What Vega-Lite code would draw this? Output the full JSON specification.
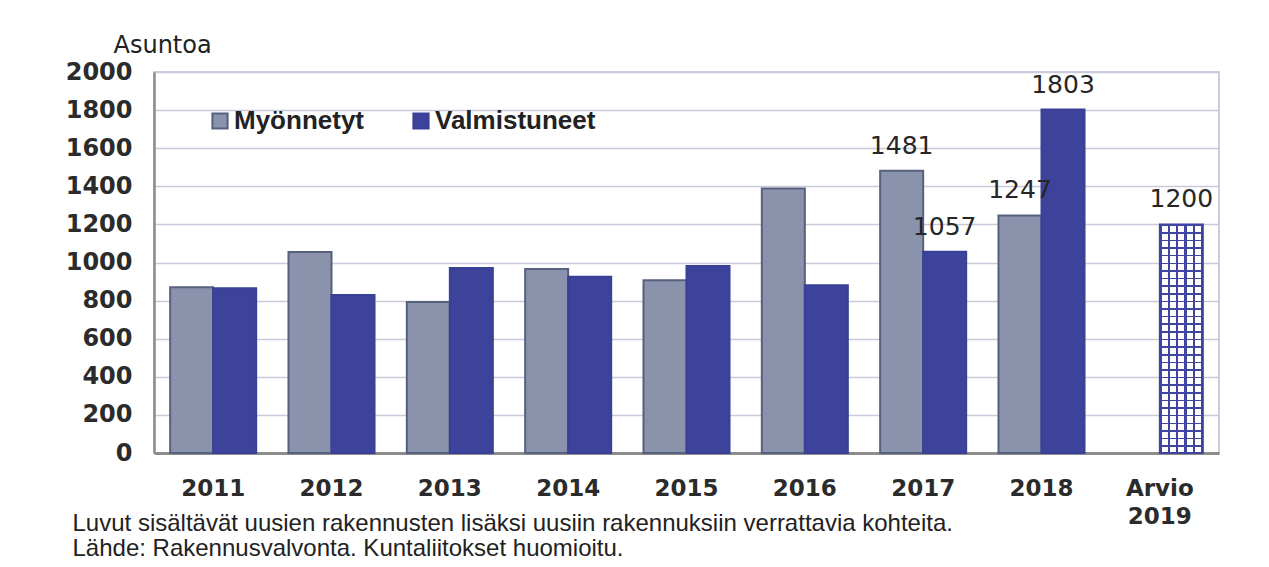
{
  "$schema": "https://vega.github.io/schema/vega-lite/v6.json",
  "width": 1065,
  "height": 381,
  "autosize": {"type": "none"},
  "padding": {"left": 154, "top": 72, "right": 50, "bottom": 114},
  "background": "white",
  "config": {
    "view": {"stroke": "#b9bdd0", "strokeWidth": 1.5},
    "font": "DejaVu Sans"
  },
  "data": {
    "values": [
      {"year": "2011", "series": "Myönnetyt", "value": 870, "kind": "toteutunut"},
      {"year": "2011", "series": "Valmistuneet", "value": 865, "kind": "toteutunut"},
      {"year": "2012", "series": "Myönnetyt", "value": 1055, "kind": "toteutunut"},
      {"year": "2012", "series": "Valmistuneet", "value": 830, "kind": "toteutunut"},
      {"year": "2013", "series": "Myönnetyt", "value": 792, "kind": "toteutunut"},
      {"year": "2013", "series": "Valmistuneet", "value": 971, "kind": "toteutunut"},
      {"year": "2014", "series": "Myönnetyt", "value": 966, "kind": "toteutunut"},
      {"year": "2014", "series": "Valmistuneet", "value": 925, "kind": "toteutunut"},
      {"year": "2015", "series": "Myönnetyt", "value": 907, "kind": "toteutunut"},
      {"year": "2015", "series": "Valmistuneet", "value": 981, "kind": "toteutunut"},
      {"year": "2016", "series": "Myönnetyt", "value": 1388, "kind": "toteutunut"},
      {"year": "2016", "series": "Valmistuneet", "value": 881, "kind": "toteutunut"},
      {"year": "2017", "series": "Myönnetyt", "value": 1481, "kind": "toteutunut"},
      {"year": "2017", "series": "Valmistuneet", "value": 1057, "kind": "toteutunut"},
      {"year": "2018", "series": "Myönnetyt", "value": 1247, "kind": "toteutunut"},
      {"year": "2018", "series": "Valmistuneet", "value": 1803, "kind": "toteutunut"},
      {"year": "Arvio 2019", "series": "Valmistuneet", "value": 1200, "kind": "arvio"}
    ]
  },
  "encoding": {
    "x": {
      "field": "year",
      "type": "nominal",
      "sort": null,
      "scale": {"paddingInner": 0.273, "paddingOuter": 0.1365},
      "axis": {
        "labelAngle": 0,
        "labelExpr": "split(datum.label, ' ')",
        "labelFont": "DejaVu Sans",
        "labelFontWeight": "bold",
        "labelFontSize": 23,
        "labelColor": "#2b2b2b",
        "labelLineHeight": 28,
        "labelPadding": 24,
        "ticks": false,
        "domain": true,
        "domainColor": "#8c8c8c",
        "domainWidth": 3,
        "grid": false,
        "title": ["Luvut sisältävät uusien rakennusten lisäksi uusiin rakennuksiin verrattavia kohteita.", "Lähde: Rakennusvalvonta. Kuntaliitokset huomioitu."],
        "titleFont": "Liberation Sans",
        "titleFontWeight": "normal",
        "titleFontSize": 24,
        "titleColor": "#222222",
        "titleAlign": "left",
        "titleAnchor": "start",
        "titleBaseline": "middle",
        "titleLineHeight": 25,
        "titleLimit": 1200,
        "titleX": -82,
        "titleY": 70
      }
    },
    "xOffset": {
      "field": "series",
      "type": "nominal",
      "scale": {"domain": ["Myönnetyt", "Valmistuneet"], "paddingInner": 0, "paddingOuter": 0}
    },
    "y": {
      "field": "value",
      "type": "quantitative",
      "scale": {"domain": [0, 2000], "nice": false},
      "axis": {
        "values": [0, 200, 400, 600, 800, 1000, 1200, 1400, 1600, 1800, 2000],
        "format": "d",
        "labelFont": "DejaVu Sans",
        "labelFontWeight": "bold",
        "labelFontSize": 24,
        "labelColor": "#2b2b2b",
        "labelPadding": 22,
        "ticks": false,
        "domain": true,
        "domainColor": "#8c8c8c",
        "domainWidth": 2.5,
        "grid": true,
        "gridColor": "#c9cbda",
        "gridWidth": 1.5,
        "title": "Asuntoa",
        "titleFont": "DejaVu Sans",
        "titleFontWeight": "normal",
        "titleFontSize": 24,
        "titleColor": "#222222",
        "titleAngle": 0,
        "titleAlign": "left",
        "titleBaseline": "middle",
        "titleX": -41,
        "titleY": -27
      }
    }
  },
  "layer": [
    {
      "transform": [{"filter": "datum.kind == 'toteutunut'"}],
      "mark": {"type": "bar", "strokeWidth": 2},
      "encoding": {
        "color": {
          "field": "series",
          "type": "nominal",
          "scale": {"domain": ["Myönnetyt", "Valmistuneet"], "range": ["#8a93ab", "#3d439b"]},
          "legend": {
            "title": null,
            "orient": "none",
            "direction": "horizontal",
            "legendX": 53,
            "legendY": 36,
            "padding": 0,
            "symbolType": "square",
            "symbolSize": 230,
            "symbolStrokeWidth": 2,
            "symbolOpacity": 1,
            "labelFont": "Liberation Sans",
            "labelFontWeight": "bold",
            "labelFontSize": 26,
            "labelColor": "#222222",
            "labelOffset": 1,
            "labelLimit": 400,
            "columnPadding": 44
          }
        },
        "stroke": {
          "field": "series",
          "type": "nominal",
          "scale": {"domain": ["Myönnetyt", "Valmistuneet"], "range": ["#56607f", "#3a4096"]},
          "legend": null
        }
      }
    },
    {
      "transform": [{"filter": "datum.kind == 'arvio'"}],
      "mark": {
        "type": "bar",
        "fill": {
          "gradient": "linear", "x1": 0, "y1": 0, "x2": 1, "y2": 0,
          "stops": [
            {"offset": 0, "color": "#3f45a0"}, {"offset": 0.05, "color": "#3f45a0"}, {"offset": 0.05, "color": "#ffffff"}, {"offset": 0.19, "color": "#ffffff"},
            {"offset": 0.19, "color": "#3f45a0"}, {"offset": 0.24, "color": "#3f45a0"}, {"offset": 0.24, "color": "#ffffff"}, {"offset": 0.38, "color": "#ffffff"},
            {"offset": 0.38, "color": "#3f45a0"}, {"offset": 0.43, "color": "#3f45a0"}, {"offset": 0.43, "color": "#ffffff"}, {"offset": 0.57, "color": "#ffffff"},
            {"offset": 0.57, "color": "#3f45a0"}, {"offset": 0.62, "color": "#3f45a0"}, {"offset": 0.62, "color": "#ffffff"}, {"offset": 0.76, "color": "#ffffff"},
            {"offset": 0.76, "color": "#3f45a0"}, {"offset": 0.81, "color": "#3f45a0"}, {"offset": 0.81, "color": "#ffffff"}, {"offset": 0.95, "color": "#ffffff"},
            {"offset": 0.95, "color": "#3f45a0"}, {"offset": 1, "color": "#3f45a0"}
          ]
        }
      }
    },
    {
      "transform": [{"filter": "datum.kind == 'arvio'"}],
      "mark": {
        "type": "bar",
        "stroke": "#3f45a0",
        "strokeWidth": 2,
        "fill": {
          "gradient": "linear", "x1": 0, "y1": 0, "x2": 0, "y2": 1,
          "stops": [
            {"offset": 0, "color": "#3f45a0"}, {"offset": 0.007, "color": "#3f45a0"}, {"offset": 0.007, "color": "rgba(255,255,255,0)"}, {"offset": 0.0333, "color": "rgba(255,255,255,0)"},
            {"offset": 0.0333, "color": "#3f45a0"}, {"offset": 0.0403, "color": "#3f45a0"}, {"offset": 0.0403, "color": "rgba(255,255,255,0)"}, {"offset": 0.0667, "color": "rgba(255,255,255,0)"},
            {"offset": 0.0667, "color": "#3f45a0"}, {"offset": 0.0737, "color": "#3f45a0"}, {"offset": 0.0737, "color": "rgba(255,255,255,0)"}, {"offset": 0.1, "color": "rgba(255,255,255,0)"},
            {"offset": 0.1, "color": "#3f45a0"}, {"offset": 0.107, "color": "#3f45a0"}, {"offset": 0.107, "color": "rgba(255,255,255,0)"}, {"offset": 0.1333, "color": "rgba(255,255,255,0)"},
            {"offset": 0.1333, "color": "#3f45a0"}, {"offset": 0.1403, "color": "#3f45a0"}, {"offset": 0.1403, "color": "rgba(255,255,255,0)"}, {"offset": 0.1667, "color": "rgba(255,255,255,0)"},
            {"offset": 0.1667, "color": "#3f45a0"}, {"offset": 0.1737, "color": "#3f45a0"}, {"offset": 0.1737, "color": "rgba(255,255,255,0)"}, {"offset": 0.2, "color": "rgba(255,255,255,0)"},
            {"offset": 0.2, "color": "#3f45a0"}, {"offset": 0.207, "color": "#3f45a0"}, {"offset": 0.207, "color": "rgba(255,255,255,0)"}, {"offset": 0.2333, "color": "rgba(255,255,255,0)"},
            {"offset": 0.2333, "color": "#3f45a0"}, {"offset": 0.2403, "color": "#3f45a0"}, {"offset": 0.2403, "color": "rgba(255,255,255,0)"}, {"offset": 0.2667, "color": "rgba(255,255,255,0)"},
            {"offset": 0.2667, "color": "#3f45a0"}, {"offset": 0.2737, "color": "#3f45a0"}, {"offset": 0.2737, "color": "rgba(255,255,255,0)"}, {"offset": 0.3, "color": "rgba(255,255,255,0)"},
            {"offset": 0.3, "color": "#3f45a0"}, {"offset": 0.307, "color": "#3f45a0"}, {"offset": 0.307, "color": "rgba(255,255,255,0)"}, {"offset": 0.3333, "color": "rgba(255,255,255,0)"},
            {"offset": 0.3333, "color": "#3f45a0"}, {"offset": 0.3403, "color": "#3f45a0"}, {"offset": 0.3403, "color": "rgba(255,255,255,0)"}, {"offset": 0.3667, "color": "rgba(255,255,255,0)"},
            {"offset": 0.3667, "color": "#3f45a0"}, {"offset": 0.3737, "color": "#3f45a0"}, {"offset": 0.3737, "color": "rgba(255,255,255,0)"}, {"offset": 0.4, "color": "rgba(255,255,255,0)"},
            {"offset": 0.4, "color": "#3f45a0"}, {"offset": 0.407, "color": "#3f45a0"}, {"offset": 0.407, "color": "rgba(255,255,255,0)"}, {"offset": 0.4333, "color": "rgba(255,255,255,0)"},
            {"offset": 0.4333, "color": "#3f45a0"}, {"offset": 0.4403, "color": "#3f45a0"}, {"offset": 0.4403, "color": "rgba(255,255,255,0)"}, {"offset": 0.4667, "color": "rgba(255,255,255,0)"},
            {"offset": 0.4667, "color": "#3f45a0"}, {"offset": 0.4737, "color": "#3f45a0"}, {"offset": 0.4737, "color": "rgba(255,255,255,0)"}, {"offset": 0.5, "color": "rgba(255,255,255,0)"},
            {"offset": 0.5, "color": "#3f45a0"}, {"offset": 0.507, "color": "#3f45a0"}, {"offset": 0.507, "color": "rgba(255,255,255,0)"}, {"offset": 0.5333, "color": "rgba(255,255,255,0)"},
            {"offset": 0.5333, "color": "#3f45a0"}, {"offset": 0.5403, "color": "#3f45a0"}, {"offset": 0.5403, "color": "rgba(255,255,255,0)"}, {"offset": 0.5667, "color": "rgba(255,255,255,0)"},
            {"offset": 0.5667, "color": "#3f45a0"}, {"offset": 0.5737, "color": "#3f45a0"}, {"offset": 0.5737, "color": "rgba(255,255,255,0)"}, {"offset": 0.6, "color": "rgba(255,255,255,0)"},
            {"offset": 0.6, "color": "#3f45a0"}, {"offset": 0.607, "color": "#3f45a0"}, {"offset": 0.607, "color": "rgba(255,255,255,0)"}, {"offset": 0.6333, "color": "rgba(255,255,255,0)"},
            {"offset": 0.6333, "color": "#3f45a0"}, {"offset": 0.6403, "color": "#3f45a0"}, {"offset": 0.6403, "color": "rgba(255,255,255,0)"}, {"offset": 0.6667, "color": "rgba(255,255,255,0)"},
            {"offset": 0.6667, "color": "#3f45a0"}, {"offset": 0.6737, "color": "#3f45a0"}, {"offset": 0.6737, "color": "rgba(255,255,255,0)"}, {"offset": 0.7, "color": "rgba(255,255,255,0)"},
            {"offset": 0.7, "color": "#3f45a0"}, {"offset": 0.707, "color": "#3f45a0"}, {"offset": 0.707, "color": "rgba(255,255,255,0)"}, {"offset": 0.7333, "color": "rgba(255,255,255,0)"},
            {"offset": 0.7333, "color": "#3f45a0"}, {"offset": 0.7403, "color": "#3f45a0"}, {"offset": 0.7403, "color": "rgba(255,255,255,0)"}, {"offset": 0.7667, "color": "rgba(255,255,255,0)"},
            {"offset": 0.7667, "color": "#3f45a0"}, {"offset": 0.7737, "color": "#3f45a0"}, {"offset": 0.7737, "color": "rgba(255,255,255,0)"}, {"offset": 0.8, "color": "rgba(255,255,255,0)"},
            {"offset": 0.8, "color": "#3f45a0"}, {"offset": 0.807, "color": "#3f45a0"}, {"offset": 0.807, "color": "rgba(255,255,255,0)"}, {"offset": 0.8333, "color": "rgba(255,255,255,0)"},
            {"offset": 0.8333, "color": "#3f45a0"}, {"offset": 0.8403, "color": "#3f45a0"}, {"offset": 0.8403, "color": "rgba(255,255,255,0)"}, {"offset": 0.8667, "color": "rgba(255,255,255,0)"},
            {"offset": 0.8667, "color": "#3f45a0"}, {"offset": 0.8737, "color": "#3f45a0"}, {"offset": 0.8737, "color": "rgba(255,255,255,0)"}, {"offset": 0.9, "color": "rgba(255,255,255,0)"},
            {"offset": 0.9, "color": "#3f45a0"}, {"offset": 0.907, "color": "#3f45a0"}, {"offset": 0.907, "color": "rgba(255,255,255,0)"}, {"offset": 0.9333, "color": "rgba(255,255,255,0)"},
            {"offset": 0.9333, "color": "#3f45a0"}, {"offset": 0.9403, "color": "#3f45a0"}, {"offset": 0.9403, "color": "rgba(255,255,255,0)"}, {"offset": 0.9667, "color": "rgba(255,255,255,0)"},
            {"offset": 0.9667, "color": "#3f45a0"}, {"offset": 0.9737, "color": "#3f45a0"}, {"offset": 0.9737, "color": "rgba(255,255,255,0)"}, {"offset": 1, "color": "rgba(255,255,255,0)"}
          ]
        }
      }
    },
    {
      "transform": [{"filter": "datum.year == '2017' || datum.year == '2018' || datum.kind == 'arvio'"}],
      "mark": {"type": "text", "baseline": "alphabetic", "dy": -17, "font": "DejaVu Sans", "fontSize": 25, "color": "#262626"},
      "encoding": {
        "text": {"field": "value", "type": "quantitative", "format": "d"}
      }
    }
  ]
}
